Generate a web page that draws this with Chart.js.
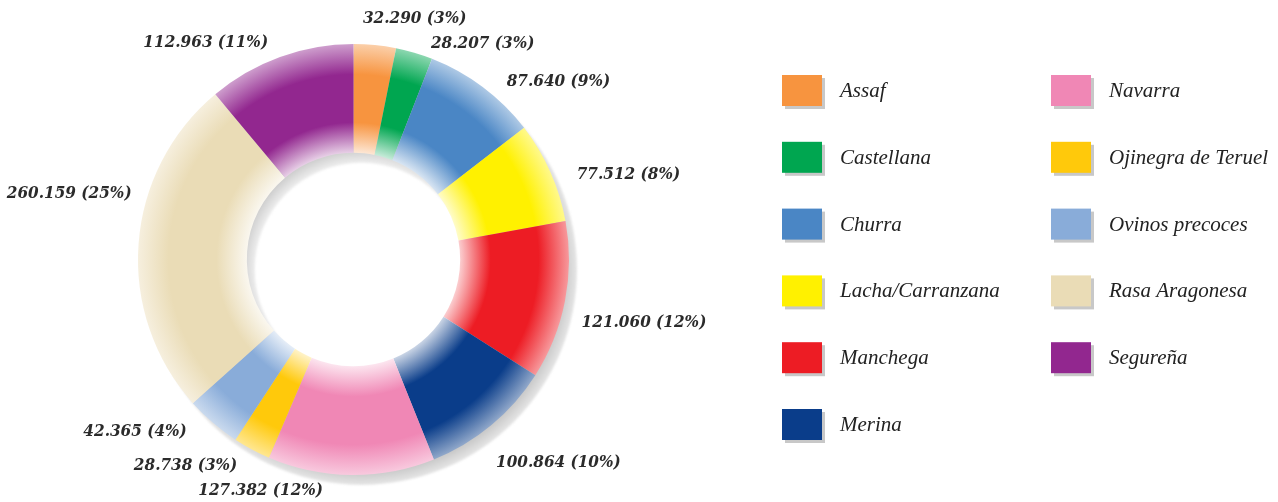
<!DOCTYPE html>
<html><head><meta charset="utf-8">
<script src="https://cdn.jsdelivr.net/npm/chart.js@4.4.1/dist/chart.umd.min.js"></script>
<style>html,body{margin:0;padding:0;background:#fff;}canvas{display:block}</style>
</head><body>
<canvas id="c" width="1278" height="502"></canvas>
<script>
const breeds = ['Assaf','Castellana','Churra','Lacha/Carranzana','Manchega','Merina','Navarra','Ojinegra de Teruel','Ovinos precoces','Rasa Aragonesa','Segureña'];
const heads = [32290, 28207, 87640, 77512, 121060, 100864, 127382, 28738, 42365, 260159, 112963];
const percentLabels = ['3%','3%','9%','8%','12%','10%','12%','3%','4%','25%','11%'];
const breedColors = ['#F7943F','#00A650','#4A86C5','#FFF100','#ED1C24','#0A3D8A','#F087B5','#FFC90B','#89ACD9','#EADCB6','#92278F'];

// layout only: label nudges (px) from the radial anchor
const labelNudge = [[-14,-7],[11,10],[12,11],[8,11],[-3,18],[-8,22],[-28,-4],[-5,-2],[-13,-6],[13,-49],[-5,4]];

function mixWhite(hex, t){
  const n = parseInt(hex.slice(1),16);
  const r=(n>>16)&255, g=(n>>8)&255, b=n&255;
  const m = v => Math.round(v + (255-v)*t);
  return `rgb(${m(r)},${m(g)},${m(b)})`;
}
function fmt(n){ return String(n).replace(/\B(?=(\d{3})+(?!\d))/g,'.'); }

function segGradient(ctx){
  const chart = ctx.chart;
  const base = breedColors[ctx.dataIndex];
  const ca = chart.chartArea;
  const ctrl = chart.getDatasetMeta(0).controller;
  if(!ca || !ctrl || !ctrl.outerRadius) return base;
  const cx=(ca.left+ca.right)/2, cy=(ca.top+ca.bottom)/2;
  const R=ctrl.outerRadius, r=ctrl.innerRadius;
  const g = chart.ctx.createRadialGradient(cx,cy,r,cx,cy,R);
  g.addColorStop(0, mixWhite(base,0.78));
  g.addColorStop(0.28, base);
  g.addColorStop(0.72, base);
  g.addColorStop(1, mixWhite(base,0.55));
  return g;
}

const shadowPlugin = {
  id:'ringShadow',
  beforeDatasetsDraw(chart){
    const a = chart.getDatasetMeta(0).data[0];
    if(!a) return;
    const ctx=chart.ctx;
    const ox=a.x+8, oy=a.y+10, R=a.outerRadius, r=a.innerRadius;
    const g=ctx.createRadialGradient(ox,oy,r,ox,oy,R);
    const span=R-r;
    g.addColorStop(0,'#eeeeee');
    g.addColorStop(16/span,'#c6c6c6');
    g.addColorStop(1-14/span,'#c6c6c6');
    g.addColorStop(1,'#e6e6e6');
    ctx.save();
    ctx.beginPath();
    ctx.arc(ox,oy,R,0,Math.PI*2);
    ctx.arc(ox,oy,r,0,Math.PI*2,true);
    ctx.filter='blur(1px)';
    ctx.fillStyle=g;
    ctx.fill();
    ctx.restore();
  }
};

const labelPlugin = {
  id:'valueLabels',
  afterDatasetsDraw(chart){
    const ctx=chart.ctx;
    const meta=chart.getDatasetMeta(0);
    ctx.save();
    ctx.font='italic bold 17px "DejaVu Serif Condensed", "DejaVu Serif"';
    try{ ctx.fontStretch='condensed'; }catch(e){}
    ctx.fillStyle='#2b2b2b';
    ctx.textBaseline='middle';
    meta.data.forEach((arc,i)=>{
      const mid=(arc.startAngle+arc.endAngle)/2;
      const rr=arc.outerRadius+20;
      const c=Math.cos(mid), s=Math.sin(mid);
      const x=arc.x+c*rr+labelNudge[i][0];
      const y=arc.y+s*rr+labelNudge[i][1];
      ctx.textAlign = c>=0 ? 'left' : 'right';
      ctx.fillText(fmt(heads[i])+' ('+percentLabels[i]+')', x, y);
    });
    ctx.restore();
  }
};

const legendPlugin = {
  id:'sideLegend',
  afterDraw(chart){
    const ctx=chart.ctx;
    ctx.save();
    const colX=[782,1051], top=75, step=66.8, w=40, h=31;
    chart.data.labels.forEach((lab,i)=>{
      const col = i<6?0:1, row = i%6;
      const x=colX[col], y=top+row*step;
      ctx.fillStyle='#c8c8c8';
      ctx.fillRect(x+3,y+3,w,h);
      ctx.fillStyle=breedColors[i];
      ctx.fillRect(x,y,w,h);
      ctx.fillStyle='#222';
      ctx.font='italic 21px "Liberation Serif"';
      ctx.textAlign='left';
      ctx.textBaseline='middle';
      ctx.fillText(lab, x+58, y+h/2+1);
    });
    ctx.restore();
  }
};

new Chart(document.getElementById('c'), {
  type:'doughnut',
  data:{labels:breeds, datasets:[{data:heads, backgroundColor:segGradient, borderWidth:0}]},
  options:{
    responsive:false, animation:false, cutout:'49.5%',
    layout:{padding:{left:138,right:709,top:43.5,bottom:26.5}},
    plugins:{legend:{display:false}, tooltip:{enabled:false}}
  },
  plugins:[shadowPlugin,labelPlugin,legendPlugin]
});
</script>
</body></html>
